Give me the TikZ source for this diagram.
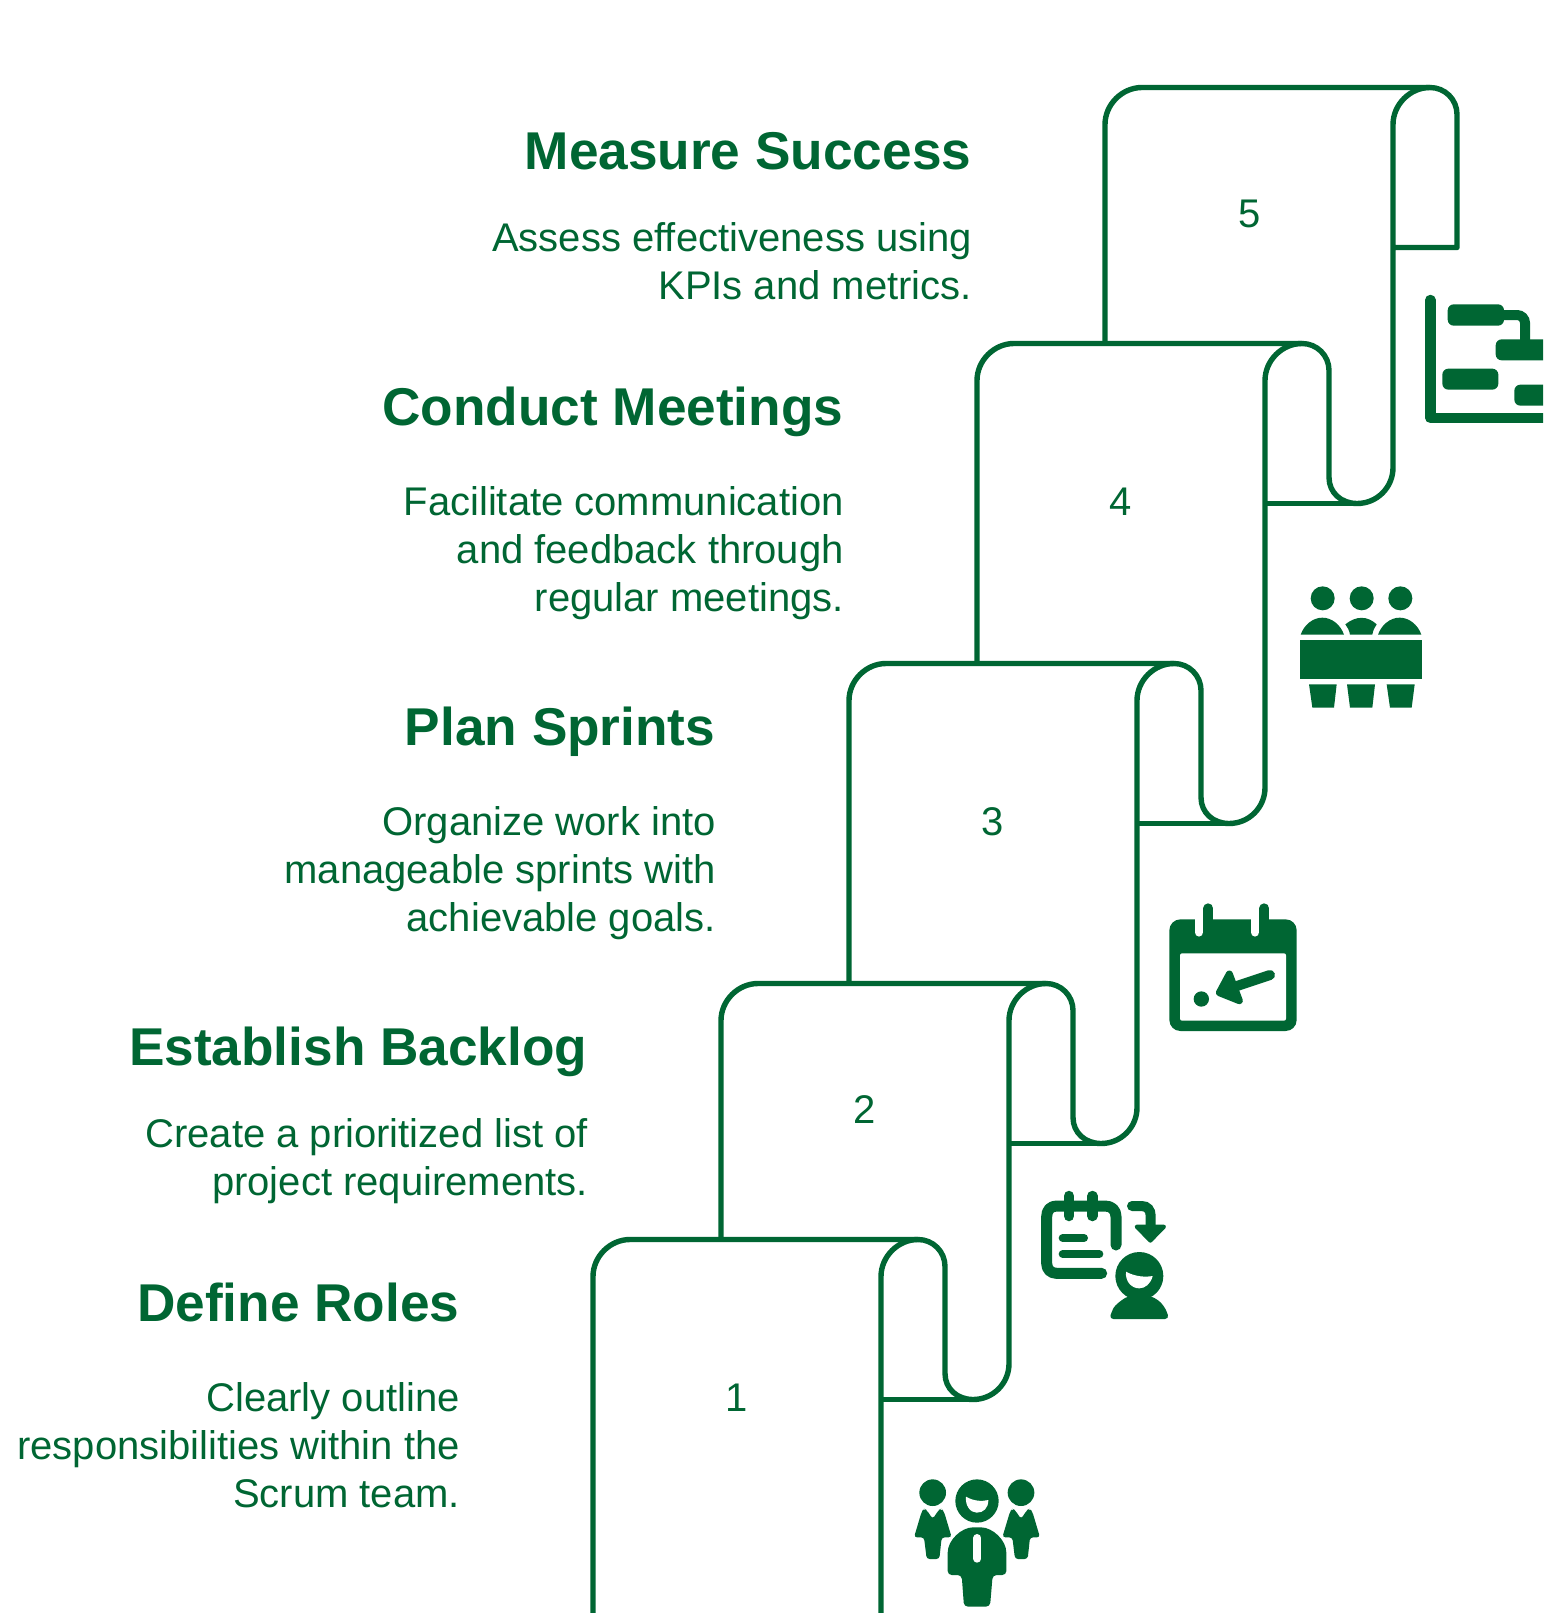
\documentclass[tikz,border=0pt]{standalone}
\usepackage{fontspec}
\setmainfont{Liberation Sans}
\definecolor{dkgreen}{HTML}{006633}
\tikzset{
  titletext/.style={text=dkgreen,font=\bfseries\fontsize{53.2}{60}\selectfont,anchor=base east,inner sep=0pt},
  bodytext/.style={text=dkgreen,font=\fontsize{40}{48}\selectfont,align=right,anchor=base east,inner sep=0pt},
  numtext/.style={text=dkgreen,font=\fontsize{40}{48}\selectfont,anchor=center,inner sep=0pt},
  scrollline/.style={draw=dkgreen,line width=5.4pt,line join=round},
}
% #1 x, #2 y, #3 bottom y of the left wall: left wall and top edge of one sheet
\newcommand{\scrollbody}[3]{%
  \draw[scrollline] (#1,#3) -- (#1,#2+37) .. controls (#1,#2+17) and (#1+17,#2) .. (#1+37,#2)
    -- (#1+325,#2);
}
\begin{document}
\begin{tikzpicture}[x=1pt,y=-1pt]
\useasboundingbox (0,0) rectangle (1543,1613);
\clip (0,0) rectangle (1543,1613);
\fill[white] (0,0) rectangle (1543,1613);

% scrolls
\begin{scope}[yshift=-0.5pt]
\scrollbody{1105}{87}{343}
\scrollbody{977}{343}{663}
\scrollbody{849}{663}{983}
\scrollbody{721}{983}{1239}
\scrollbody{593}{1239}{1625}
% the one ribbon that runs through all the right-hand walls and curls
\draw[scrollline] (881,1625) -- (881,1276)
  .. controls (881,1256) and (898,1239) .. (918,1239)
  .. controls (933,1239) and (945,1251) .. (945,1266)
  -- (945,1373)
  .. controls (945,1388) and (957,1399) .. (973,1399)
  .. controls (993,1399) and (1009,1383) .. (1009,1363)
  -- (1009,1020)
  .. controls (1009,1000) and (1026,983) .. (1046,983)
  .. controls (1061,983) and (1073,995) .. (1073,1010)
  -- (1073,1117)
  .. controls (1073,1132) and (1085,1143) .. (1101,1143)
  .. controls (1121,1143) and (1137,1127) .. (1137,1107)
  -- (1137,700)
  .. controls (1137,680) and (1154,663) .. (1174,663)
  .. controls (1189,663) and (1201,675) .. (1201,690)
  -- (1201,797)
  .. controls (1201,812) and (1213,823) .. (1229,823)
  .. controls (1249,823) and (1265,807) .. (1265,787)
  -- (1265,380)
  .. controls (1265,360) and (1282,343) .. (1302,343)
  .. controls (1317,343) and (1329,355) .. (1329,370)
  -- (1329,477)
  .. controls (1329,492) and (1341,503) .. (1357,503)
  .. controls (1377,503) and (1393,487) .. (1393,467)
  -- (1393,124)
  .. controls (1393,104) and (1410,87) .. (1430,87)
  .. controls (1445,87) and (1457,99) .. (1457,114)
  -- (1457,247) -- (1393,247);
\draw[scrollline] (1265,503) -- (1357,503);
\draw[scrollline] (1137,823) -- (1229,823);
\draw[scrollline] (1009,1143) -- (1101,1143);
\draw[scrollline] (881,1399) -- (973,1399);
\end{scope}

% numbers
\node[numtext] (n5) at (1249.5,213.5) {5};
\node[numtext] (n4) at (1121,501.5) {4};
\node[numtext] (n3) at (993,821.5) {3};
\node[numtext] (n2) at (865,1109.5) {2};
\node[numtext] (n1) at (737,1397.5) {1};

% titles
\node[titletext] (t5) at (971.5,169.5) {Measure Success};
\node[titletext] (t4) at (843.5,425.5) {Conduct Meetings};
\node[titletext] (t3) at (715.5,745.5) {Plan Sprints};
\node[titletext] (t2) at (587.5,1065.5) {Establish Backlog};
\node[titletext] (t1) at (459.5,1321.5) {Define Roles};

% descriptions
\node[bodytext] (d5) at (972,299) {Assess effectiveness using\\KPIs and metrics.};
\node[bodytext] (d4) at (844,611) {Facilitate communication\\and feedback through\\regular meetings.};
\node[bodytext] (d3) at (716,931) {Organize work into\\manageable sprints with\\achievable goals.};
\node[bodytext] (d2) at (588,1195) {Create a prioritized list of\\project requirements.};
\node[bodytext] (d1) at (460,1507) {Clearly outline\\responsibilities within the\\Scrum team.};

% icon 1: team
\begin{scope}[shift={(880,1420)},scale=1/3]
  \fill[dkgreen] (158,218) circle (40);
  \fill[dkgreen] (423,218) circle (40);
  \fill[dkgreen] (291,243) circle (65);
  \fill[white] (258,230) .. controls (280,243) and (305,245) .. (325,240)
     .. controls (325,265) and (310,278) .. (290,278) .. controls (270,278) and (255,255) .. (258,230) -- cycle;
  \foreach \dx in {0,265}{
    \fill[dkgreen,shift={(\dx,0)},rounded corners=3pt] (102,352) -- (125,275) -- (132,266) -- (140,270) -- (158,297) -- (176,270) -- (184,266) -- (192,275) -- (215,352) -- (185,352) -- (178,417) -- (140,417) -- (132,352) -- cycle;
  }
  \fill[dkgreen,rounded corners=4pt] (203,465) -- (203,410) .. controls (203,360) and (245,322) .. (291,322) .. controls (337,322) and (379,360) .. (379,410) -- (379,465) -- (338,465) -- (330,560) -- (252,560) -- (245,465) -- cycle;
  \draw[white,line width=8pt,line cap=round] (292,354) -- (292,416);
\end{scope}

% icon 2: backlog
\begin{scope}[shift={(1020,1170)},scale=1/3]
  \draw[dkgreen,line width=11pt,line cap=round,line join=round] (288,225) -- (288,140) .. controls (288,120) and (275,108) .. (255,108) -- (110,108) .. controls (92,108) and (80,120) .. (80,140) -- (80,280) .. controls (80,298) and (92,310) .. (110,310) -- (245,310);
  \draw[dkgreen,line width=10.5pt,line cap=round] (147,78) -- (147,138);
  \draw[dkgreen,line width=10.5pt,line cap=round] (217,78) -- (217,138);
  \draw[dkgreen,line width=8pt,line cap=round] (128,204) -- (192,204);
  \draw[dkgreen,line width=8pt,line cap=round] (128,252) -- (238,252);
  \draw[dkgreen,line width=10pt,line cap=round] (336,108) -- (365,108) .. controls (382,108) and (392,120) .. (392,137) -- (392,175);
  \fill[dkgreen,draw=dkgreen,line width=4pt,line join=round] (350,170) -- (432,170) -- (391,212) -- cycle;
  \fill[dkgreen] (358,318) circle (72);
  \fill[white] (318,305) .. controls (345,320) and (375,322) .. (398,318)
     .. controls (392,342) and (375,355) .. (358,355) .. controls (335,355) and (315,335) .. (318,305) -- cycle;
  \fill[dkgreen,rounded corners=4pt] (268,447) -- (275,425) .. controls (285,405) and (305,390) .. (325,378) -- (392,378) .. controls (415,390) and (435,405) .. (447,447) -- cycle;
\end{scope}

% icon 3: calendar
\begin{scope}[shift={(1150,890)},scale=1/3]
  \fill[dkgreen,rounded corners=11pt] (58,88) rectangle (440,423);
  \fill[white,rounded corners=2pt] (90,190) rectangle (408,392);
  \draw[white,line width=8.5pt,line cap=round] (147,70) -- (147,127);
  \draw[white,line width=8.5pt,line cap=round] (315,70) -- (315,127);
  \draw[dkgreen,line width=10pt,line cap=round] (175,55) -- (175,110);
  \draw[dkgreen,line width=10pt,line cap=round] (343,55) -- (343,110);
  \fill[dkgreen] (154,327) circle (23);
  \draw[dkgreen,line width=10pt,line cap=round] (360,255) -- (255,290);
  \fill[dkgreen,draw=dkgreen,line width=7pt,line join=round] (238,252) -- (208,308) -- (268,332) -- cycle;
\end{scope}

% icon 4: meeting
\begin{scope}[shift={(1280,570)},scale=1/3]
  \foreach \hx in {128,245,361}{\fill[dkgreen] (\hx,85) circle (36);}
  \fill[dkgreen] (62,194) .. controls (72,165) and (98,143) .. (127,143) .. controls (156,143) and (182,165) .. (192,194) -- cycle;
  \fill[dkgreen] (294,194) .. controls (304,165) and (330,143) .. (359,143) .. controls (388,143) and (414,165) .. (424,194) -- cycle;
  \fill[dkgreen] (196,163) .. controls (228,137) and (262,137) .. (290,163) .. controls (283,172) and (279,182) .. (277,194) -- (210,194) .. controls (208,182) and (203,172) .. (196,163) -- cycle;
  \fill[dkgreen] (60,210) rectangle (426,327);
  \fill[dkgreen] (87,343) -- (170,343) -- (162,413) -- (97,413) -- cycle;
  \fill[dkgreen] (201,343) -- (285,343) -- (277,413) -- (210,413) -- cycle;
  \fill[dkgreen] (320,343) -- (404,343) -- (395,413) -- (330,413) -- cycle;
\end{scope}

% icon 5: gantt
\begin{scope}[shift={(1410,280)},scale=1/3]
  \draw[dkgreen,line width=10.5pt,line cap=round,line join=round] (61,60) -- (61,414) -- (520,414);
  \fill[dkgreen,rounded corners=6pt] (113,73) rectangle (282,137);
  \fill[dkgreen,rounded corners=6pt] (257,178) rectangle (520,241);
  \fill[dkgreen,rounded corners=6pt] (97,266) rectangle (265,329);
  \fill[dkgreen,rounded corners=6pt] (313,314) rectangle (520,377);
  \draw[dkgreen,line width=10pt,rounded corners=8pt] (275,105) -- (345,105) -- (345,185);
\end{scope}
\end{tikzpicture}
\end{document}
